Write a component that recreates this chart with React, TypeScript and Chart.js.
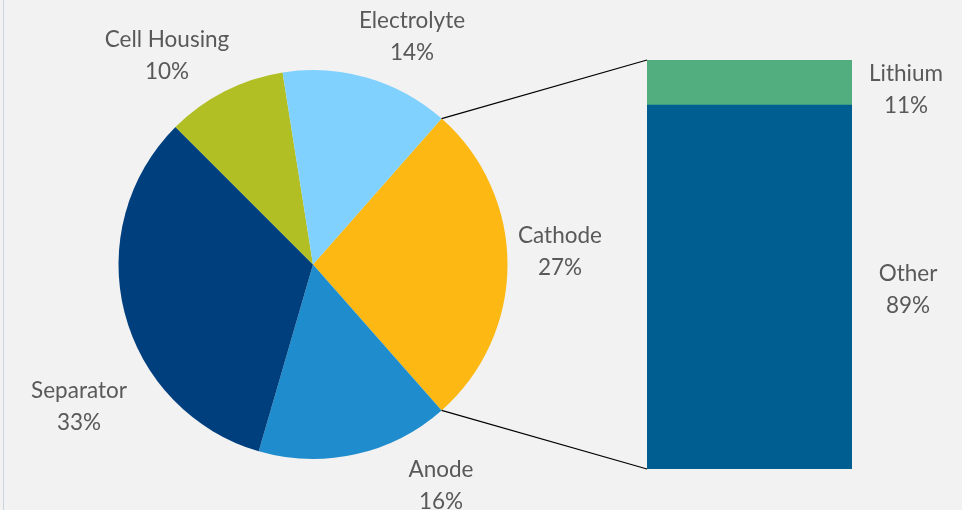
import React, { useEffect, useRef } from "react";
import { Chart, registerables } from "chart.js";

Chart.register(...registerables);

const pieLabels = ["Cathode", "Anode", "Separator", "Cell Housing", "Electrolyte"];
const pieValues = [27, 16, 33, 10, 14];
const pieColors = ["#FDB813", "#1F8DCD", "#003F7E", "#B1BF25", "#80D1FE"];

const barLabels = ["Other", "Lithium"];
const barValues = [89, 11];
const barColors = ["#005E90", "#52AE7E"];

// label block centre offsets relative to pie centre (px)
const pieLabelOffsets: [number, number][] = [
  [247, -13],
  [128, 221],
  [-234, 142],
  [-146, -209],
  [99, -228],
];
// bar label offsets: x from bar right, y from segment middle
const barLabelOffsets: [number, number][] = [
  [56, 3],
  [54, 7],
];

const FONT = "Lato, 'Open Sans', sans-serif";
const TEXT_COLOR = "#595959";

function drawTwoLine(ctx: CanvasRenderingContext2D, x: number, y: number, a: string, b: string) {
  ctx.save();
  ctx.fillStyle = TEXT_COLOR;
  ctx.font = `22.5px ${FONT}`;
  ctx.textAlign = "center";
  ctx.textBaseline = "middle";
  ctx.fillText(a, x, y - 16);
  ctx.fillText(b, x, y + 16);
  ctx.restore();
}

export default function App() {
  const pieRef = useRef<HTMLCanvasElement>(null);
  const barRef = useRef<HTMLCanvasElement>(null);

  useEffect(() => {
    document.body.style.margin = "0";
    const total = pieValues.reduce((s, v) => s + v, 0);
    const rotation = 90 - (pieValues[0] / total) * 180;

    const pieLabelPlugin = {
      id: "pieLabels",
      afterDatasetsDraw(chart: any) {
        const meta = chart.getDatasetMeta(0);
        const ctx = chart.ctx;
        meta.data.forEach((arc: any, i: number) => {
          const { x, y } = arc.getProps(["x", "y"], true);
          const [dx, dy] = pieLabelOffsets[i];
          drawTwoLine(ctx, x + dx, y + dy, pieLabels[i], `${pieValues[i]}%`);
        });
      },
    };

    const pie = new Chart(pieRef.current!, {
      type: "pie",
      data: {
        labels: pieLabels,
        datasets: [
          {
            data: pieValues,
            backgroundColor: pieColors,
            borderWidth: 0,
            hoverOffset: 0,
            offset: 0,
          },
        ],
      },
      options: {
        responsive: false,
        animation: false,
        rotation,
        layout: { padding: { left: 118, right: 454, top: 70, bottom: 51 } },
        plugins: { legend: { display: false }, tooltip: { enabled: false } },
        events: [],
      },
      plugins: [pieLabelPlugin],
    });

    const connectorPlugin = {
      id: "connectors",
      afterDatasetsDraw(chart: any) {
        const ctx = chart.ctx;
        const arc: any = pie.getDatasetMeta(0).data[0];
        const p = arc.getProps(["x", "y", "startAngle", "endAngle", "outerRadius"], true);
        const a1 = { x: p.x + p.outerRadius * Math.cos(p.startAngle), y: p.y + p.outerRadius * Math.sin(p.startAngle) };
        const a2 = { x: p.x + p.outerRadius * Math.cos(p.endAngle), y: p.y + p.outerRadius * Math.sin(p.endAngle) };
        const topBar: any = chart.getDatasetMeta(1).data[0];
        const botBar: any = chart.getDatasetMeta(0).data[0];
        const tb = topBar.getProps(["x", "y", "width", "base"], true);
        const bb = botBar.getProps(["x", "y", "width", "base"], true);
        const left = tb.x - tb.width / 2;
        ctx.save();
        ctx.strokeStyle = "#000";
        ctx.lineWidth = 1.2;
        ctx.beginPath();
        ctx.moveTo(a1.x, a1.y);
        ctx.lineTo(left, tb.y);
        ctx.moveTo(a2.x, a2.y);
        ctx.lineTo(left, bb.base);
        ctx.stroke();
        ctx.restore();

        [0, 1].forEach((di) => {
          const el: any = chart.getDatasetMeta(di).data[0];
          const q = el.getProps(["x", "y", "width", "base"], true);
          const right = q.x + q.width / 2;
          const mid = (q.y + q.base) / 2;
          const [dx, dy] = barLabelOffsets[di];
          drawTwoLine(ctx, right + dx, mid + dy, barLabels[di], `${barValues[di]}%`);
        });
      },
    };

    const bar = new Chart(barRef.current!, {
      type: "bar",
      data: {
        labels: ["Cathode"],
        datasets: barLabels.map((l, i) => ({
          label: l,
          data: [barValues[i]],
          backgroundColor: barColors[i],
          borderWidth: 0,
          barPercentage: 1,
          categoryPercentage: 1,
        })),
      },
      options: {
        responsive: false,
        animation: false,
        layout: { padding: { left: 647, right: 110, top: 60, bottom: 41 } },
        scales: {
          x: { stacked: true, display: false },
          y: { stacked: true, display: false, min: 0, max: 100 },
        },
        plugins: { legend: { display: false }, tooltip: { enabled: false } },
        events: [],
      },
      plugins: [connectorPlugin],
    });

    return () => {
      bar.destroy();
      pie.destroy();
    };
  }, []);

  return (
    <div style={{ position: "relative", width: 962, height: 510, background: "#F2F2F2", overflow: "hidden" }}>
      <div style={{ position: "absolute", left: 3, top: 0, width: 1, height: 510, background: "#CAD5E3" }} />
      <canvas ref={pieRef} width={962} height={510} style={{ position: "absolute", left: 0, top: 0 }} />
      <canvas ref={barRef} width={962} height={510} style={{ position: "absolute", left: 0, top: 0 }} />
    </div>
  );
}
